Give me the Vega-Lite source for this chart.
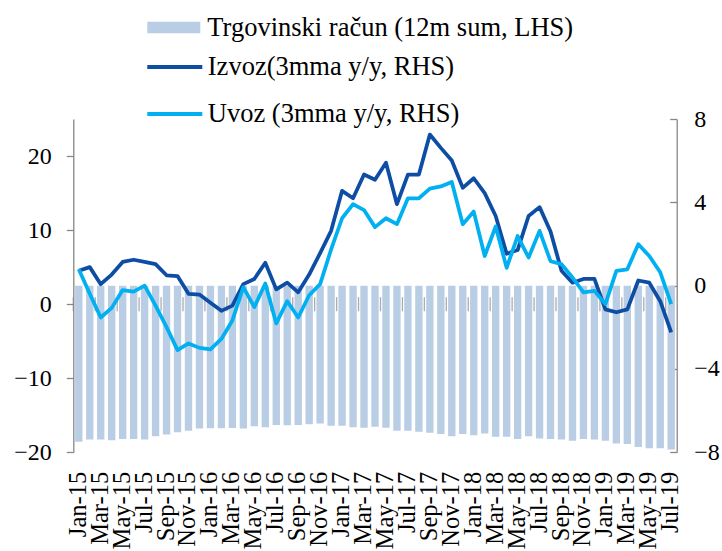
{
  "$schema": "https://vega.github.io/schema/vega-lite/v6.json",
  "width": 603.4,
  "height": 333.3,
  "autosize": {"type": "none"},
  "padding": {"left": 73.3, "top": 119, "right": 45.3, "bottom": 98.7},
  "background": "white",
  "config": {
    "view": {"stroke": null},
    "axis": {"grid": false, "labelFont": "Liberation Serif", "labelColor": "#000000", "domainColor": "#878787", "tickColor": "#878787", "domainWidth": 1.3, "tickWidth": 1.3}
  },
  "data": {"values": [
    {"m": "Jan-15", "trade": -7.49, "izvoz": 4.5, "uvoz": 4.7},
    {"m": "Feb-15", "trade": -7.39, "izvoz": 5.0, "uvoz": 1.4},
    {"m": "Mar-15", "trade": -7.39, "izvoz": 2.7, "uvoz": -1.8},
    {"m": "Apr-15", "trade": -7.42, "izvoz": 4.0, "uvoz": -0.5},
    {"m": "May-15", "trade": -7.36, "izvoz": 5.7, "uvoz": 1.9},
    {"m": "Jun-15", "trade": -7.36, "izvoz": 6.0, "uvoz": 1.7},
    {"m": "Jul-15", "trade": -7.39, "izvoz": 5.7, "uvoz": 2.5},
    {"m": "Aug-15", "trade": -7.23, "izvoz": 5.4, "uvoz": -0.2},
    {"m": "Sep-15", "trade": -7.14, "izvoz": 3.9, "uvoz": -3.1},
    {"m": "Oct-15", "trade": -7.04, "izvoz": 3.8, "uvoz": -6.2},
    {"m": "Nov-15", "trade": -6.96, "izvoz": 1.4, "uvoz": -5.3},
    {"m": "Dec-15", "trade": -6.86, "izvoz": 1.3, "uvoz": -5.9},
    {"m": "Jan-16", "trade": -6.85, "izvoz": 0.2, "uvoz": -6.1},
    {"m": "Feb-16", "trade": -6.85, "izvoz": -0.9, "uvoz": -4.7},
    {"m": "Mar-16", "trade": -6.83, "izvoz": -0.2, "uvoz": -2.2},
    {"m": "Apr-16", "trade": -6.86, "izvoz": 2.7, "uvoz": 2.3},
    {"m": "May-16", "trade": -6.75, "izvoz": 3.4, "uvoz": -0.4},
    {"m": "Jun-16", "trade": -6.80, "izvoz": 5.6, "uvoz": 2.8},
    {"m": "Jul-16", "trade": -6.69, "izvoz": 2.0, "uvoz": -2.6},
    {"m": "Aug-16", "trade": -6.70, "izvoz": 2.9, "uvoz": 0.4},
    {"m": "Sep-16", "trade": -6.69, "izvoz": 1.6, "uvoz": -1.8},
    {"m": "Oct-16", "trade": -6.65, "izvoz": 4.0, "uvoz": 1.2},
    {"m": "Nov-16", "trade": -6.62, "izvoz": 6.9, "uvoz": 2.7},
    {"m": "Dec-16", "trade": -6.73, "izvoz": 9.9, "uvoz": 7.4},
    {"m": "Jan-17", "trade": -6.73, "izvoz": 15.3, "uvoz": 11.6},
    {"m": "Feb-17", "trade": -6.80, "izvoz": 14.3, "uvoz": 13.5},
    {"m": "Mar-17", "trade": -6.82, "izvoz": 17.5, "uvoz": 12.7},
    {"m": "Apr-17", "trade": -6.77, "izvoz": 16.8, "uvoz": 10.4},
    {"m": "May-17", "trade": -6.82, "izvoz": 19.1, "uvoz": 11.6},
    {"m": "Jun-17", "trade": -6.96, "izvoz": 13.5, "uvoz": 10.8},
    {"m": "Jul-17", "trade": -6.96, "izvoz": 17.5, "uvoz": 14.3},
    {"m": "Aug-17", "trade": -7.01, "izvoz": 17.5, "uvoz": 14.3},
    {"m": "Sep-17", "trade": -7.06, "izvoz": 22.9, "uvoz": 15.6},
    {"m": "Oct-17", "trade": -7.12, "izvoz": 21.1, "uvoz": 15.9},
    {"m": "Nov-17", "trade": -7.23, "izvoz": 19.4, "uvoz": 16.5},
    {"m": "Dec-17", "trade": -7.12, "izvoz": 15.7, "uvoz": 10.8},
    {"m": "Jan-18", "trade": -7.18, "izvoz": 17.0, "uvoz": 12.5},
    {"m": "Feb-18", "trade": -7.10, "izvoz": 15.0, "uvoz": 6.5},
    {"m": "Mar-18", "trade": -7.25, "izvoz": 11.9, "uvoz": 10.5},
    {"m": "Apr-18", "trade": -7.25, "izvoz": 6.8, "uvoz": 4.9},
    {"m": "May-18", "trade": -7.36, "izvoz": 7.3, "uvoz": 9.2},
    {"m": "Jun-18", "trade": -7.23, "izvoz": 11.9, "uvoz": 6.3},
    {"m": "Jul-18", "trade": -7.34, "izvoz": 13.1, "uvoz": 9.9},
    {"m": "Aug-18", "trade": -7.36, "izvoz": 9.8, "uvoz": 5.8},
    {"m": "Sep-18", "trade": -7.38, "izvoz": 4.5, "uvoz": 5.4},
    {"m": "Oct-18", "trade": -7.44, "izvoz": 2.9, "uvoz": 3.6},
    {"m": "Nov-18", "trade": -7.36, "izvoz": 3.4, "uvoz": 1.6},
    {"m": "Dec-18", "trade": -7.38, "izvoz": 3.4, "uvoz": 1.8},
    {"m": "Jan-19", "trade": -7.44, "izvoz": -0.7, "uvoz": 0.0},
    {"m": "Feb-19", "trade": -7.58, "izvoz": -1.1, "uvoz": 4.5},
    {"m": "Mar-19", "trade": -7.60, "izvoz": -0.7, "uvoz": 4.7},
    {"m": "Apr-19", "trade": -7.74, "izvoz": 3.2, "uvoz": 8.1},
    {"m": "May-19", "trade": -7.81, "izvoz": 2.9, "uvoz": 6.5},
    {"m": "Jun-19", "trade": -7.81, "izvoz": 0.4, "uvoz": 4.3},
    {"m": "Jul-19", "trade": -7.87, "izvoz": -3.8, "uvoz": 0.0}
  ]},
  "encoding": {
    "x": {
      "field": "m", "type": "ordinal", "sort": null,
      "scale": {"paddingInner": 0, "paddingOuter": 0},
      "axis": {
        "title": null, "domain": false, "ticks": false, "labelAngle": -90, "labelPadding": 19,
        "labelFontSize": 24.5, "labelOverlap": false, "labelBound": false,
        "values": ["Jan-15","Mar-15","May-15","Jul-15","Sep-15","Nov-15","Jan-16","Mar-16","May-16","Jul-16","Sep-16","Nov-16","Jan-17","Mar-17","May-17","Jul-17","Sep-17","Nov-17","Jan-18","Mar-18","May-18","Jul-18","Sep-18","Nov-18","Jan-19","Mar-19","May-19","Jul-19"]
      }
    }
  },
  "layer": [
    {
      "mark": {"type": "bar", "width": {"band": 0.67}},
      "encoding": {
        "y": {"field": "trade", "type": "quantitative",
          "scale": {"domain": [-8, 8], "nice": false, "zero": false},
          "axis": {"orient": "right", "title": null, "values": [-8, -4, 0, 4, 8], "tickSize": -7, "labelPadding": 24, "labelFontSize": 24}},
        "y2": {"datum": 0},
        "fill": {"datum": "Trgovinski račun (12m sum, LHS)", "scale": {"range": ["#B9CDE5"]},
          "legend": {"orient": "none", "legendX": 87, "legendY": -105, "title": null, "symbolType": "M-2,-0.44H2V0.44H-2Z", "symbolSize": 702, "symbolStrokeWidth": 0, "symbolOpacity": 1, "labelFont": "Liberation Serif", "labelFontSize": 26.5, "labelColor": "#000000", "labelOffset": 20, "padding": 0, "labelLimit": 600}}
      }
    },
    {
      "layer": [
        {"mark": {"type": "rule", "color": "#878787", "strokeWidth": 1.3}, "encoding": {"y": {"datum": 0}}},
        {
          "transform": [{"filter": "indexof(['Jan','Mar','May','Jul','Sep','Nov'], slice(datum.m, 0, 3)) >= 0"}],
          "mark": {"type": "tick", "orient": "vertical", "size": 14, "thickness": 1.3, "color": "#878787"},
          "encoding": {"x": {"field": "m", "type": "ordinal", "sort": null, "bandPosition": 0}, "y": {"datum": 0}}
        },
        {
          "mark": {"type": "line", "strokeWidth": 3.75, "strokeJoin": "round"},
          "encoding": {
            "y": {"field": "izvoz", "type": "quantitative",
              "scale": {"domain": [-20, 25], "nice": false, "zero": false},
              "axis": {"orient": "left", "title": null, "values": [-20, -10, 0, 10, 20], "tickSize": 7, "labelPadding": 15, "labelFontSize": 24}},
            "stroke": {"datum": "Izvoz(3mma y/y, RHS)",
              "scale": {"domain": ["Izvoz(3mma y/y, RHS)", "Uvoz (3mma y/y, RHS)"], "range": ["#0E4DA4", "#00B0F0"]},
              "legend": {"orient": "none", "legendX": 85.5, "legendY": -68, "title": null, "symbolType": "M-2,0H2", "symbolSize": 756, "symbolStrokeWidth": 4, "rowPadding": 17, "labelFont": "Liberation Serif", "labelFontSize": 26.5, "labelColor": "#000000", "labelOffset": 17, "padding": 0, "labelLimit": 600}}
          }
        },
        {
          "mark": {"type": "line", "strokeWidth": 3.75, "strokeJoin": "round"},
          "encoding": {
            "y": {"field": "uvoz", "type": "quantitative"},
            "stroke": {"datum": "Uvoz (3mma y/y, RHS)"}
          }
        }
      ]
    }
  ],
  "resolve": {"scale": {"y": "independent"}}
}
